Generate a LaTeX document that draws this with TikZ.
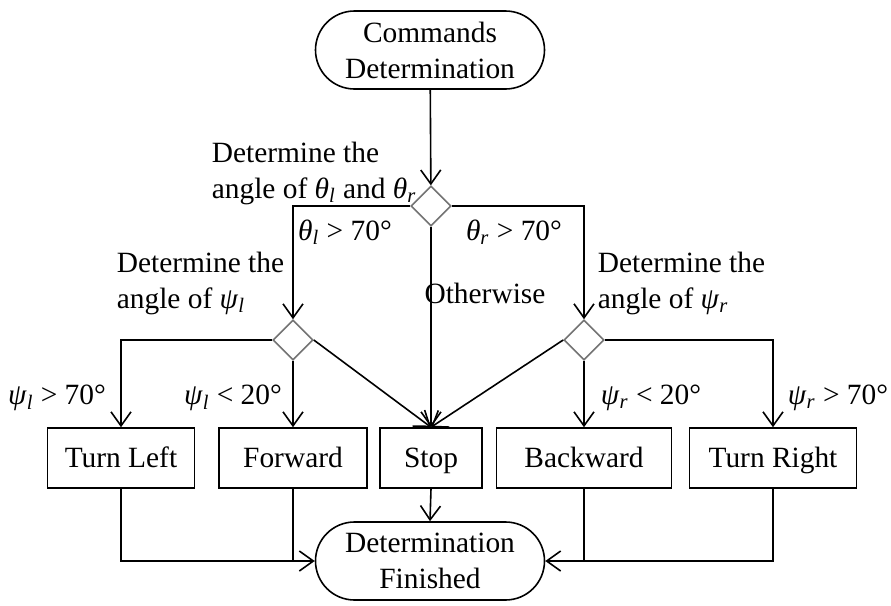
\documentclass[tikz,border=0pt]{standalone}
\usepackage{fontspec}
\setmainfont{Liberation Serif}
\usetikzlibrary{shapes.geometric,shapes.misc,arrows.meta}

\newcommand{\vang}[2]{\textit{#1}\textsubscript{\textit{#2}}}

\tikzset{
  term/.style={draw, rounded rectangle, minimum width=114.5pt, minimum height=39pt, align=center, inner sep=0pt},
  act/.style={draw, rectangle, minimum height=30pt, text height=12.5pt, text depth=3.5pt, inner sep=0pt},
  dec/.style={draw=black!55, diamond, minimum size=20pt, inner sep=0pt},
  lbl/.style={inner sep=0pt, align=left},
  arr/.style={-{Straight Barb[length=7pt,width=10pt]}}
}

\begin{document}
\begin{tikzpicture}[x=0.5pt, y=-0.5pt, line width=0.8pt, font=\fontsize{14.7}{18}\selectfont]
\useasboundingbox (0,0) rectangle (891,606);
% Flow chart of the command decision
\node[term] (start) at (430,50) {Commands\\Determination};
\node[dec] (d1) at (431,206) {};
\node[dec] (dl) at (293,340) {};
\node[dec] (dr) at (584,340) {};

\node[act, minimum width=73.5pt] (tl) at (121,458) {Turn Left};
\node[act, minimum width=74pt] (fw) at (293,458) {Forward};
\node[act, minimum width=51pt] (stop) at (431,458) {Stop};
\node[act, minimum width=87.5pt] (bw) at (584,458) {Backward};
\node[act, minimum width=83.5pt] (tr) at (773,458) {Turn Right};
\node[term] (fin) at (430,561) {Determination\\Finished};

% labels
\node[lbl, anchor=west] (q1) at (211,173) {Determine the\\angle of \vang{θ}{l} and \vang{θ}{r}};
\node[lbl] (c1) at (345,232) {\vang{θ}{l} > 70°};
\node[lbl] (c2) at (514,232) {\vang{θ}{r} > 70°};
\node[lbl] (c3) at (485,293) {Otherwise};
\node[lbl, anchor=west] (q2) at (116,283) {Determine the\\angle of \vang{ψ}{l}};
\node[lbl, anchor=west] (q3) at (597,283) {Determine the\\angle of \vang{ψ}{r}};
\node[lbl] (c4) at (57,398) {\vang{ψ}{l} > 70°};
\node[lbl] (c5) at (233,398) {\vang{ψ}{l} < 20°};
\node[lbl] (c6) at (651,398) {\vang{ψ}{r} < 20°};
\node[lbl] (c7) at (838,398) {\vang{ψ}{r} > 70°};

% connectors
\draw[arr] (start) -- (d1);
\draw[arr] (d1.west) -| (dl.north);
\draw[arr] (d1.east) -| (dr.north);
\draw[arr] (d1.south) -- (stop.north);
\draw[arr] (dl.west) -| (tl.north);
\draw[arr] (dl.south) -- (fw.north);
\draw[arr] (dl.east) -- (stop.north);
\draw[arr] (dr.west) -- (stop.north);
\draw[arr] (dr.south) -- (bw.north);
\draw[arr] (dr.east) -| (tr.north);
\draw[arr] (tl.south) |- (fin.west);
\draw (fw.south) -- (fw.south |- fin.west);
\draw[arr] (stop.south) -- (fin.north);
\draw (bw.south) -- (bw.south |- fin.east);
\draw[arr] (tr.south) |- (fin.east);
\end{tikzpicture}
\end{document}
